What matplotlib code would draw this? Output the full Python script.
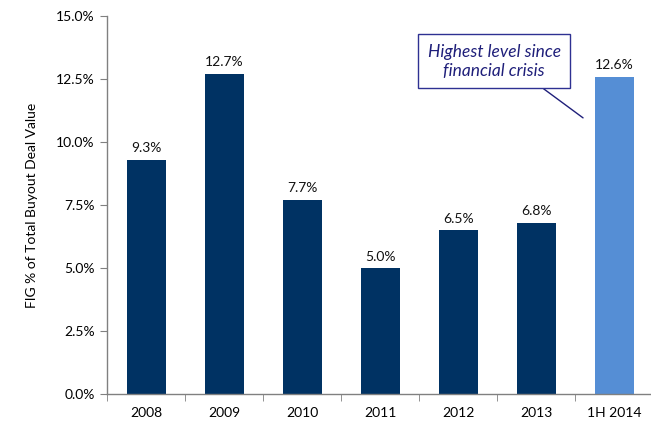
import matplotlib
matplotlib.use("Agg")
import matplotlib.pyplot as plt
from matplotlib.ticker import FixedLocator, PercentFormatter
import numpy as np

categories = ["2008", "2009", "2010", "2011", "2012", "2013", "1H 2014"]
values = [9.3, 12.7, 7.7, 5.0, 6.5, 6.8, 12.6]
value_labels = ["9.3%", "12.7%", "7.7%", "5.0%", "6.5%", "6.8%", "12.6%"]
y_ticks = [0.0, 2.5, 5.0, 7.5, 10.0, 12.5, 15.0]

plt.rcParams["font.family"] = ["Lato", "DejaVu Sans"]

dark = "#003263"
light = "#558ED5"
colors = [dark] * 6 + [light]

fig = plt.figure(figsize=(6.51, 4.22), dpi=100)
ax = fig.add_axes([0.1645, 0.066, 0.839, 0.896])

x = np.arange(len(categories))
bars = ax.bar(x, values, width=0.5, color=colors, zorder=2)

for xi, v, lab in zip(x, values, value_labels):
    ax.annotate(lab, (xi, v), xytext=(0, 4), textcoords="offset points",
                ha="center", va="bottom", fontsize=10, color="#111111")

ax.set_xlim(-0.5, len(categories) - 0.5)
ax.set_ylim(0, 15)
ax.yaxis.set_major_locator(FixedLocator(y_ticks))
ax.yaxis.set_major_formatter(PercentFormatter(decimals=1))
ax.set_xticks(x)
ax.set_xticklabels(categories)
ax.xaxis.set_minor_locator(FixedLocator(np.arange(-0.5, len(categories) - 0.6, 1.0)))
ax.tick_params(axis="x", which="major", length=0, pad=9, labelsize=10)
ax.tick_params(axis="x", which="minor", length=5, direction="out", color="#808080")
ax.tick_params(axis="y", length=5, direction="out", color="#808080", labelsize=10, pad=4)

for s in ("top", "right"):
    ax.spines[s].set_visible(False)
for s in ("left", "bottom"):
    ax.spines[s].set_color("#808080")
    ax.spines[s].set_linewidth(1.0)

ax.set_ylabel("FIG % of Total Buyout Deal Value", fontsize=10, labelpad=13)

# Callout for the latest period
ax.annotate("Highest level since\nfinancial crisis",
            xy=(5.60, 10.96), xycoords="data",
            xytext=(4.46, 13.21), textcoords="data",
            ha="center", va="center", fontsize=12.5, style="italic",
            color="#1F1F7A", linespacing=1.25,
            bbox=dict(boxstyle="square,pad=0.55", fc="white", ec="#2E3192", lw=1.0),
            arrowprops=dict(arrowstyle="-", color="#1F1F7A", lw=1.0,
                            shrinkA=0, shrinkB=0,
                            relpos=(0.77, 0.0)))

fig.savefig("out.png", dpi=100)
